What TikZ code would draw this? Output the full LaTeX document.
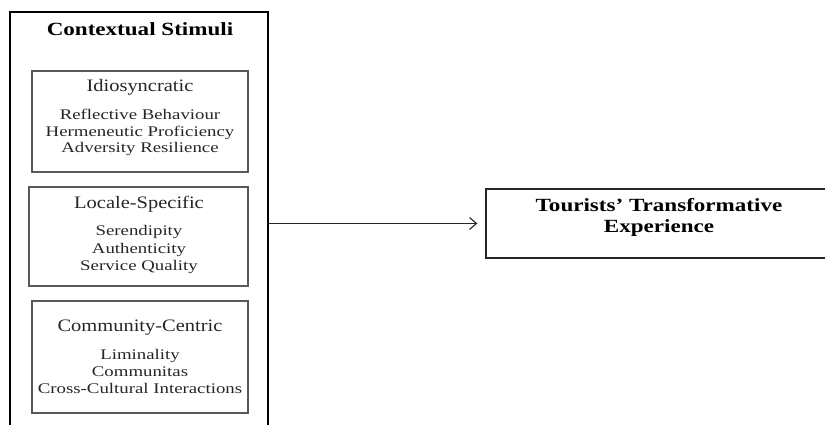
\documentclass[tikz,border=0pt]{standalone}
\usepackage{fontspec}
\setmainfont[FakeStretch=1.17]{Liberation Serif}
\newfontfamily\itemfont[FakeStretch=1.28]{Liberation Serif}
\newfontfamily\headfont[FakeStretch=1.24]{Liberation Serif}
\usetikzlibrary{arrows.meta}
\begin{document}
\begin{tikzpicture}[x=1pt,y=-1pt,
  frame/.style={draw=black,line width=1.6pt,inner sep=0pt},
  groupbox/.style={draw=black!65,line width=1.1pt,inner sep=0pt},
  outcome/.style={draw=black!85,line width=1.3pt,inner sep=0pt},
  maintitle/.style={anchor=base,font=\headfont\fontsize{18.6}{21}\selectfont\bfseries,inner sep=0pt},
  grouptitle/.style={anchor=base,font=\fontsize{17.5}{20}\selectfont,inner sep=0pt,text=black!85},
  itemtext/.style={anchor=base,font=\itemfont\fontsize{14.7}{17}\selectfont,inner sep=0pt,text=black!85},
  link/.style={line width=1.1pt,draw=black!85,-{Straight Barb[length=7pt,width=12pt,line width=1.1pt]},shorten >=8pt}]

\useasboundingbox (0,0) rectangle (825,425);
\clip (0,0) rectangle (825,425);

% outer frame (runs past the lower edge)
\node[frame,minimum width=258pt,minimum height=430pt] (stimuli) at (139,227) {};
\node[maintitle] (stimulititle) at (140,36) {Contextual Stimuli};

% group 1
\node[groupbox,minimum width=216pt,minimum height=101pt] (idio) at (140,121.5) {};
\node[grouptitle] (idiotitle) at (140,92) {Idiosyncratic};
\node[itemtext] (idioA) at (140,120) {Reflective Behaviour};
\node[itemtext] (idioB) at (140,136.5) {Hermeneutic Proficiency};
\node[itemtext] (idioC) at (140,153) {Adversity Resilience};

% group 2
\node[groupbox,minimum width=219pt,minimum height=99pt] (locale) at (138.5,236.5) {};
\node[grouptitle] (localetitle) at (139,208) {Locale-Specific};
\node[itemtext] (localeA) at (139,235) {Serendipity};
\node[itemtext] (localeB) at (139,253) {Authenticity};
\node[itemtext] (localeC) at (139,270) {Service Quality};

% group 3
\node[groupbox,minimum width=216pt,minimum height=112pt] (community) at (140,357) {};
\node[grouptitle] (communitytitle) at (140,331) {Community-Centric};
\node[itemtext] (communityA) at (140,359) {Liminality};
\node[itemtext] (communityB) at (140,376) {Communitas};
\node[itemtext] (communityC) at (140,393) {Cross-Cultural Interactions};

% outcome (runs past the right edge)
\node[outcome,minimum width=348pt,minimum height=69pt] (target) at (660,223.5) {};
\node[maintitle,anchor=center,align=center] (targettitle) at (659,217)
  {Tourists’ Transformative\\Experience};

\draw[link] (stimuli.east |- target.west) -- (target.west);
\end{tikzpicture}
\end{document}
